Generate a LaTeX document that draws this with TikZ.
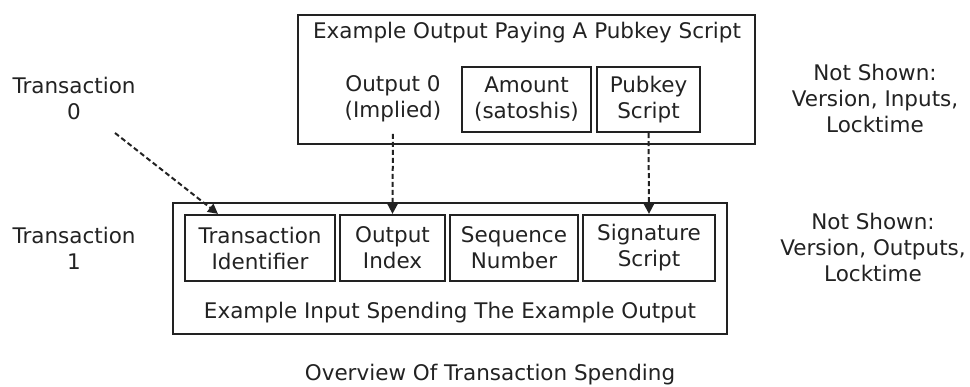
\documentclass[tikz,border=0pt]{standalone}
\usepackage{fontspec}
\setmainfont{DejaVu Sans}
\usetikzlibrary{arrows.meta}
\definecolor{ink}{HTML}{222222}
\begin{document}
\begin{tikzpicture}[x=1pt,y=-1pt,
  every node/.style={text=ink, font=\fontsize{21.5}{26}\selectfont, align=center, inner sep=0pt},
  field/.style={draw=ink, line width=2.2pt, minimum height=66pt},
  frame/.style={draw=ink, line width=2.2pt},
  link/.style={draw=ink, line width=2pt, dash pattern=on 5pt off 3pt,
    -{Triangle[length=10pt,width=10pt]}}]
\useasboundingbox (0,0) rectangle (970,387);

% transaction 0: the output being spent
\node[frame, minimum width=457pt, minimum height=129pt] (outbox) at (526.5,79.5) {};
\node (outtitle) at (527,33) {Example Output Paying A Pubkey Script};
\node (out0) at (393,98.5) {Output 0\\(Implied)};
\node[field, minimum width=129pt, minimum height=65pt] (amount) at (526.5,99.5) {Amount\\(satoshis)};
\node[field, minimum width=103pt, minimum height=65pt] (pubkey) at (648.5,99.5) {Pubkey\\Script};

% transaction 1: the input spending it
\node[frame, minimum width=554pt, minimum height=131pt] (inbox) at (450,268.5) {};
\node[field, minimum width=150pt] (txid) at (260,248) {Transaction\\Identifier};
\node[field, minimum width=105pt] (oidx) at (392.5,248) {Output\\Index};
\node[field, minimum width=128pt] (seq) at (514,248) {Sequence\\Number};
\node[field, minimum width=132pt] (sig) at (649,248) {Signature\\Script};
\node (intitle) at (450,313) {Example Input Spending The Example Output};

% side labels
\node (tx0) at (74,98.5) {Transaction\\0};
\node (tx1) at (74,248) {Transaction\\1};
\node (ns0) at (875,98) {Not Shown:\\Version, Inputs,\\Locktime};
\node (ns1) at (873,247.5) {Not Shown:\\Version, Outputs,\\Locktime};
\node (caption) at (490,375) {Overview Of Transaction Spending};

% references between the two transactions
\coordinate (tx0tail) at (115,133);
\draw[link] (tx0tail) -- ([xshift=-42pt]txid.north);
\draw[link, shorten <=12pt] (out0.south) -- (oidx.north);
\draw[link] (pubkey.south) -- (sig.north);
\end{tikzpicture}
\end{document}
